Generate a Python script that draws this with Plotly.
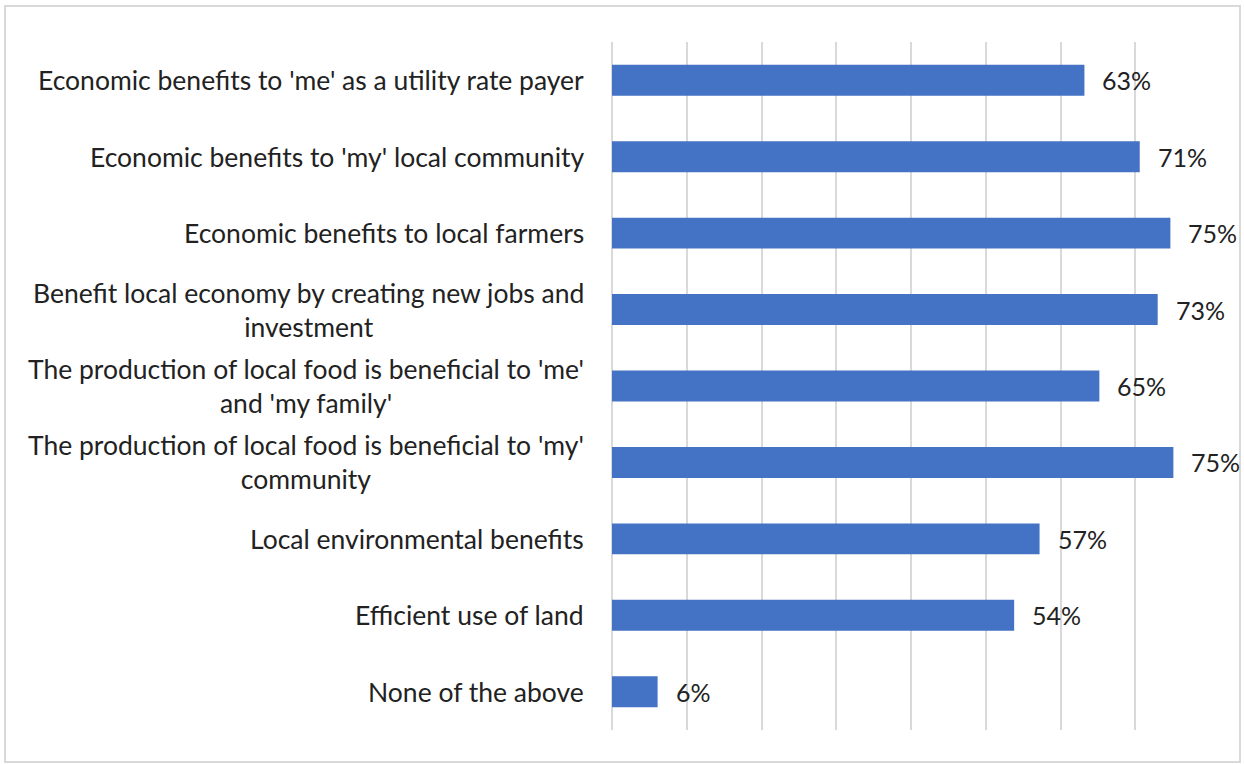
import plotly.graph_objects as go

categories = [
    "Economic benefits to 'me' as a utility rate payer",
    "Economic benefits to 'my' local community",
    "Economic benefits to local farmers",
    "Benefit local economy by creating new jobs and<br>investment",
    "The production of local food is beneficial to 'me'<br>and 'my family'",
    "The production of local food is beneficial to 'my'<br>community",
    "Local environmental benefits",
    "Efficient use of land",
    "None of the above",
]
values = [0.632, 0.706, 0.747, 0.730, 0.652, 0.751, 0.572, 0.538, 0.061]
x_ticks = [0, 0.1, 0.2, 0.3, 0.4, 0.5, 0.6, 0.7, 0.8]

W, H = 1244, 764
ML, MR, MT, MB = 612, 34, 42, 34
FONT = "Lato, 'Open Sans', sans-serif"
TXT = "#222222"
GRID = "#d9d9d9"

y_ids = list(range(len(categories)))

fig = go.Figure()
fig.add_trace(go.Bar(
    x=values, y=y_ids, orientation="h",
    marker=dict(color="#4472C4", line=dict(width=0)),
    width=0.405, hoverinfo="skip",
))

ann = []
for i, (c, v) in enumerate(zip(categories, values)):
    ann.append(dict(x=0, xref="x", y=i, yref="y", text=c, showarrow=False,
                    xanchor="right", yanchor="middle", align="center", xshift=-26,
                    font=dict(family=FONT, size=26.5, color=TXT)))
    ann.append(dict(x=v, xref="x", y=i, yref="y", text=f"{v:.0%}", showarrow=False,
                    xanchor="left", yanchor="middle", xshift=16,
                    font=dict(family=FONT, size=25, color=TXT)))

pw = W - ML - MR
ph = H - MT - MB
fig.update_layout(
    width=W, height=H,
    margin=dict(l=ML, r=MR, t=MT, b=MB, pad=0),
    paper_bgcolor="white", plot_bgcolor="white",
    showlegend=False,
    annotations=ann,
    xaxis=dict(range=[0, 0.8], tickvals=x_ticks, showticklabels=False,
               showgrid=True, gridcolor=GRID, gridwidth=2,
               zeroline=True, zerolinecolor=GRID, zerolinewidth=2,
               showline=False, ticks=""),
    yaxis=dict(range=[len(categories) - 0.5, -0.5], showticklabels=False,
               showgrid=False, zeroline=False, showline=False, ticks=""),
    shapes=[dict(type="rect", xref="paper", yref="paper",
                 x0=(5 - ML) / pw, x1=(1240 - ML) / pw,
                 y0=(H - MB - 762) / ph, y1=(H - MB - 6) / ph,
                 line=dict(color=GRID, width=2), fillcolor="rgba(0,0,0,0)",
                 layer="below")],
)

fig.write_html("out.html")
